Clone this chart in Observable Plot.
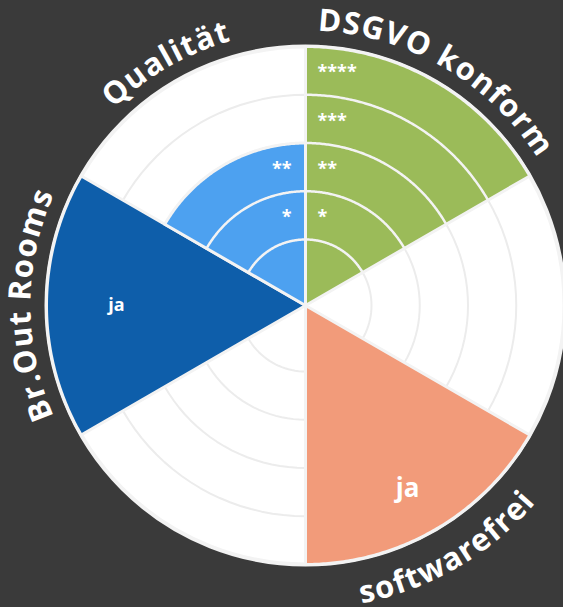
<!DOCTYPE html>
<html><head><meta charset="utf-8">
<script src="https://cdn.jsdelivr.net/npm/d3@7"></script>
<script src="https://cdn.jsdelivr.net/npm/@observablehq/plot@0.6"></script>
<style>
html,body{margin:0;padding:0;background:#3a3a3a;}
#chart{width:563px;height:607px;overflow:hidden;}
</style></head><body><div id="chart"></div>
<script>
// ---- data ----
const categories = ["DSGVO konform", "", "softwarefrei", "", "Br.Out Rooms", "Qualität"];
const values = [5, 0, 5, 0, 5, 3];
const colors = ["#9BBB59", null, "#F29B7A", null, "#0E5EAA", "#4DA1F0"];
const ringLevels = [1, 2, 3, 4];
const starLabels = ["*", "**", "***", "****"];
const starred = [true, false, false, false, false, true];
const answerLabels = ["", "", "ja", "", "ja", ""];

// ---- geometry ----
const W = 563, H = 607, cx = 305, cy = 305;
const rScale = d3.scaleLinear([0, 5], [17.75, 259]);
const R = rScale(5);
const step = 360 / categories.length;
const toXY = (deg, r) => { const a = deg * Math.PI / 180; return {x: r * Math.sin(a), y: r * Math.cos(a)}; };
const arc = (a0, a1, r) => d3.range(0, 121).map(k => toXY(a0 + (a1 - a0) * k / 120, r));

const sectors = categories.map((c, i) => ({i, c, v: values[i], color: colors[i], a0: i * step, a1: (i + 1) * step}));

const sectorMarks = sectors.filter(s => s.v > 0).map(s =>
  Plot.line([{x: 0, y: 0}, ...arc(s.a0, s.a1, rScale(s.v))],
    {x: "x", y: "y", fill: s.color, stroke: "#f3f3f3", strokeWidth: 3, curve: "linear-closed", strokeLinejoin: "round"}));

const grayRings = ringLevels.flatMap(l => arc(0, 360, rScale(l)).map(p => ({...p, l})));

const whiteArcs = sectors.filter(s => starred[s.i]).flatMap(s =>
  ringLevels.filter(l => l < s.v).flatMap(l => arc(s.a0, s.a1, rScale(l)).map(p => ({...p, id: s.i + "-" + l}))));

// star labels
const starData = sectors.filter(s => starred[s.i]).flatMap(s =>
  ringLevels.filter(l => l < s.v).map(l => ({side: (s.a0 + s.a1) / 2 < 180 ? 1 : -1, t: starLabels[l - 1], x: 0, y: rScale(l + 0.5)})));

// answer labels
const ansPlace = {2: {deg: 150.9, r: 210, size: 26}, 4: {deg: 270, r: 189, size: 18}};
const ansMarks = sectors.filter(s => answerLabels[s.i]).map(s => {
  const p = ansPlace[s.i];
  return Plot.text([{...toXY(p.deg, p.r), t: answerLabels[s.i]}],
    {x: "x", y: "y", text: "t", fill: "white", fontSize: p.size, fontWeight: 700, fontFamily: "Open Sans", lineAnchor: "middle"});
});

// curved category labels
const LF = 31, LS = 1.2;
const ctx = document.createElement("canvas").getContext("2d");
ctx.font = `700 ${LF}px "Open Sans"`;
function layout(text, centerDeg, rb, outward) {
  const chars = [...text];
  const widths = chars.map(c => ctx.measureText(c).width);
  const total = d3.sum(widths) + LS * (chars.length - 1);
  let s = 0;
  return chars.map((c, j) => {
    const mid = s + widths[j] / 2;
    s += widths[j] + LS;
    const off = (mid - total / 2) / rb * 180 / Math.PI;
    const a = outward ? centerDeg + off : centerDeg - off;
    return {c, ...toXY(a, rb), rotate: outward ? a : a - 180};
  });
}
const labelChars = sectors.filter(s => s.c).flatMap(s => {
  const mid = (s.a0 + s.a1) / 2;
  const outward = !(mid > 90 && mid < 270);
  return layout(s.c, mid, outward ? 275 : 303, outward);
});

const plot = Plot.plot({
  width: W, height: H, margin: 0,
  x: {domain: [-cx, W - cx], axis: null},
  y: {domain: [-(H - cy), cy], axis: null},
  style: {background: "transparent"},
  marks: [
    Plot.dot([{x: 0, y: 0}], {x: "x", y: "y", r: R, fill: "white", stroke: "#f3f3f3", strokeWidth: 4}),
    Plot.line(grayRings, {x: "x", y: "y", z: "l", stroke: "#ececec", strokeWidth: 2}),
    ...sectorMarks,
    Plot.line(whiteArcs, {x: "x", y: "y", z: "id", stroke: "#f3f3f3", strokeWidth: 2.5}),
    Plot.text(starData.filter(d => d.side > 0), {x: "x", y: "y", text: "t", dx: 12, dy: 2, textAnchor: "start", fill: "white", fontSize: 18, fontWeight: 700, fontFamily: "Open Sans"}),
    Plot.text(starData.filter(d => d.side < 0), {x: "x", y: "y", text: "t", dx: -14, dy: 2, textAnchor: "end", fill: "white", fontSize: 18, fontWeight: 700, fontFamily: "Open Sans"}),
    ...ansMarks,
    Plot.text(labelChars, {x: "x", y: "y", text: "c", rotate: "rotate", fill: "white", fontSize: LF, fontWeight: 700, fontFamily: "Open Sans", textAnchor: "middle", lineAnchor: "bottom"})
  ]
});
document.getElementById("chart").appendChild(plot);
</script>
</body></html>
